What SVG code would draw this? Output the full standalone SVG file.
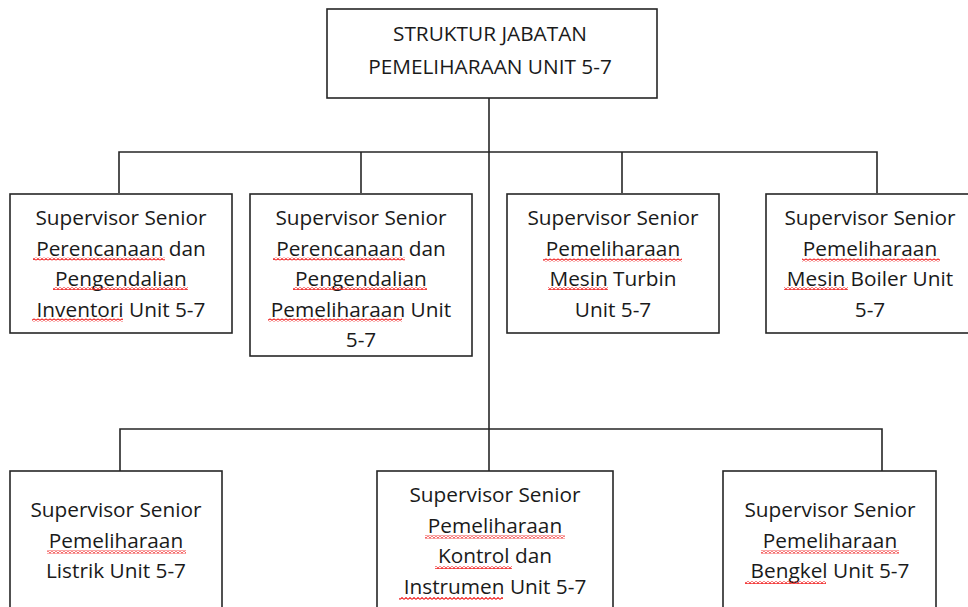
<svg xmlns="http://www.w3.org/2000/svg" width="968" height="607" viewBox="0 0 968 607">
<style>
.box{fill:#fff;stroke:#262626;stroke-width:1.6}
.ln{fill:none;stroke:#262626;stroke-width:1.6}
text{font-family:"Open Sans","Liberation Sans",sans-serif;font-size:20.8px;fill:#1a1a1a;text-anchor:middle}
.sq{fill:url(#sq)}
</style>
<defs>
<pattern id="sq" width="4" height="3" patternUnits="userSpaceOnUse">
<path d="M0 2.4 L2 0.6 L4 2.4" fill="none" stroke="#f01818" stroke-width="1.1"/>
</pattern>
</defs>
<g id="connectors">
<path class="ln" d="M489 98 V471"/>
<path class="ln" d="M119 193 V152 H877 V193"/>
<path class="ln" d="M361 152 V193"/>
<path class="ln" d="M622 152 V193"/>
<path class="ln" d="M120 471 V429 H882 V471"/>
</g>
<g id="top">
<rect class="box" x="327" y="9" width="330" height="89"/>
<text x="490" y="41">STRUKTUR JABATAN</text>
<text x="490" y="74">PEMELIHARAAN UNIT 5-7</text>
</g>
<g id="n1">
<rect class="box" x="10" y="194" width="222" height="139"/>
<text x="121" y="225">Supervisor Senior</text>
<text x="121" y="255.5">Perencanaan dan</text>
<text x="121" y="286">Pengendalian</text>
<text x="121" y="316.5">Inventori Unit 5-7</text>
<rect class="sq" x="33" y="257.5" width="132" height="3"/>
<rect class="sq" x="53" y="287" width="135" height="3"/>
<rect class="sq" x="32" y="318.5" width="91" height="3"/>
</g>
<g id="n2">
<rect class="box" x="250" y="194" width="222" height="162"/>
<text x="361" y="225">Supervisor Senior</text>
<text x="361" y="255.5">Perencanaan dan</text>
<text x="361" y="286">Pengendalian</text>
<text x="361" y="316.5">Pemeliharaan Unit</text>
<text x="361" y="347">5-7</text>
<rect class="sq" x="273" y="257.5" width="132" height="3"/>
<rect class="sq" x="293" y="287" width="134" height="3"/>
<rect class="sq" x="268" y="318.5" width="134" height="3"/>
</g>
<g id="n3">
<rect class="box" x="507" y="194" width="212" height="139"/>
<text x="613" y="225">Supervisor Senior</text>
<text x="613" y="255.5">Pemeliharaan</text>
<text x="613" y="286">Mesin Turbin</text>
<text x="613" y="316.5">Unit 5-7</text>
<rect class="sq" x="543" y="258.5" width="139" height="3"/>
<rect class="sq" x="548" y="287" width="60" height="3"/>
</g>
<g id="n4">
<rect class="box" x="766" y="194" width="212" height="139"/>
<text x="870" y="225">Supervisor Senior</text>
<text x="870" y="255.5">Pemeliharaan</text>
<text x="870" y="286">Mesin Boiler Unit</text>
<text x="870" y="316.5">5-7</text>
<rect class="sq" x="802" y="258.5" width="138" height="3"/>
<rect class="sq" x="784" y="287" width="64" height="3"/>
</g>
<g id="n5">
<rect class="box" x="10" y="471" width="212" height="150"/>
<text x="116" y="517">Supervisor Senior</text>
<text x="116" y="547.5">Pemeliharaan</text>
<text x="116" y="578">Listrik Unit 5-7</text>
<rect class="sq" x="47" y="550.5" width="139" height="3"/>
</g>
<g id="n6">
<rect class="box" x="377" y="471" width="236" height="150"/>
<text x="495" y="502">Supervisor Senior</text>
<text x="495" y="532.5">Pemeliharaan</text>
<text x="495" y="563">Kontrol dan</text>
<text x="495" y="593.5">Instrumen Unit 5-7</text>
<rect class="sq" x="425" y="535.5" width="140" height="3"/>
<rect class="sq" x="435" y="566" width="77" height="3"/>
<rect class="sq" x="399" y="597" width="104" height="3"/>
</g>
<g id="n7">
<rect class="box" x="723" y="471" width="213" height="150"/>
<text x="830" y="517">Supervisor Senior</text>
<text x="830" y="547.5">Pemeliharaan</text>
<text x="830" y="578">Bengkel Unit 5-7</text>
<rect class="sq" x="761" y="550.5" width="138" height="3"/>
<rect class="sq" x="745" y="581" width="81" height="3"/>
</g>
</svg>
